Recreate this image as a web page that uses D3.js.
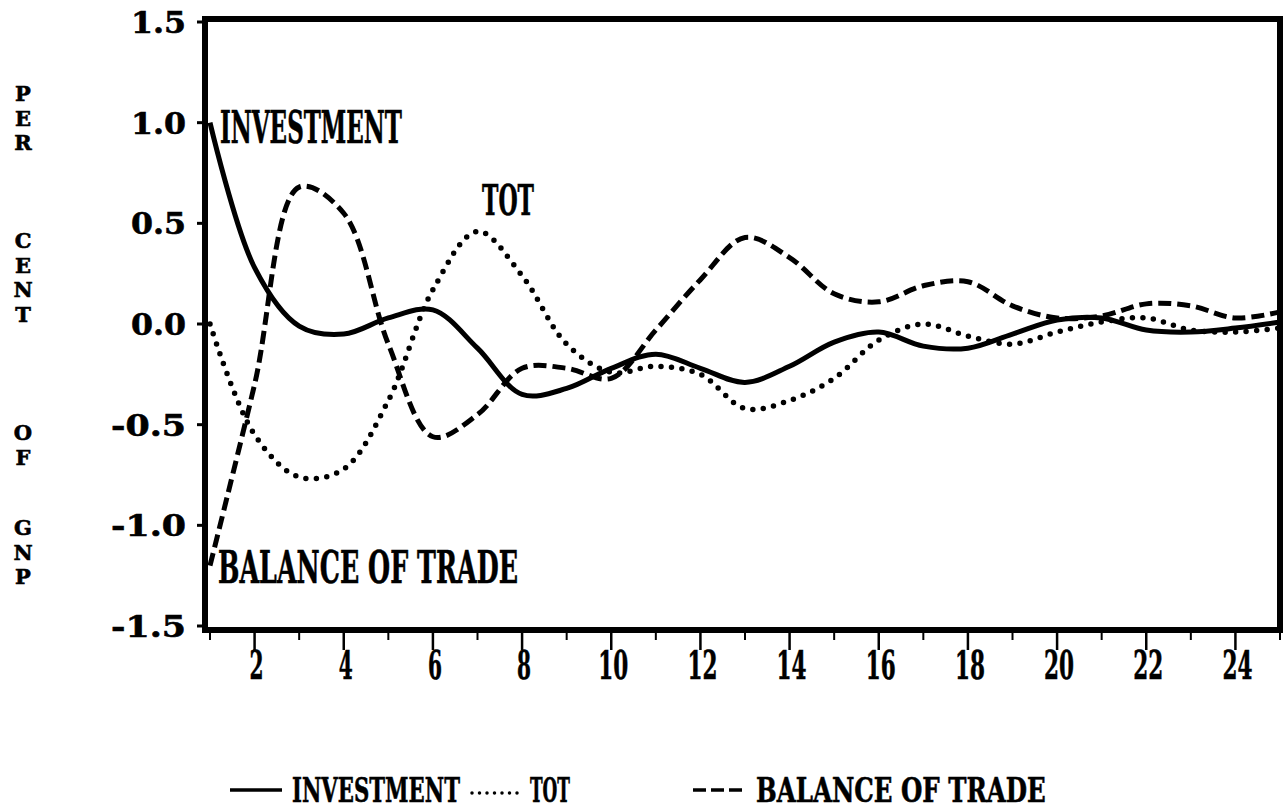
<!DOCTYPE html>
<html>
<head>
<meta charset="utf-8">
<script src="https://cdn.jsdelivr.net/npm/d3@7"></script>
<style>
  html, body { margin: 0; padding: 0; background: #fff; }
  svg { display: block; }
  text { font-family: "DejaVu Serif", "Liberation Serif", serif; font-weight: bold; fill: #000; stroke: #000; stroke-width: 0.6; }
</style>
</head>
<body>
<svg id="chart" width="1286" height="812"></svg>
<script>
// ---- data ----
const periods = [1,2,3,4,5,6,7,8,9,10,11,12,13,14,15,16,17,18,19,20,21,22,23,24,25];
const investment = [1.0, 0.28, -0.01, -0.05, 0.03, 0.07, -0.12, -0.35, -0.32, -0.22, -0.15, -0.22, -0.29, -0.21, -0.09, -0.04, -0.11, -0.12, -0.05, 0.02, 0.03, -0.03, -0.04, -0.02, 0.01];
const tot = [0.0, -0.55, -0.76, -0.72, -0.38, 0.17, 0.46, 0.24, -0.10, -0.24, -0.21, -0.25, -0.42, -0.38, -0.27, -0.08, 0.0, -0.06, -0.10, -0.04, 0.01, 0.03, -0.03, -0.04, -0.02];
const balanceOfTrade = [-1.2, -0.30, 0.68, 0.55, -0.10, -0.56, -0.45, -0.22, -0.22, -0.27, -0.03, 0.22, 0.43, 0.33, 0.15, 0.11, 0.19, 0.21, 0.09, 0.03, 0.04, 0.10, 0.09, 0.03, 0.06];
const yTicks = [1.5, 1.0, 0.5, 0.0, -0.5, -1.0, -1.5];
const yTickLabels = ["1.5", "1.0", "0.5", "0.0", "-0.5", "-1.0", "-1.5"];
const xMajorTicks = [2,4,6,8,10,12,14,16,18,20,22,24];
const xMinorTicks = [1,3,5,7,9,11,13,15,17,19,21,23,25];
const yTitleWords = ["PER", "CENT", "OF", "GNP"];
const seriesNames = ["INVESTMENT", "TOT", "BALANCE OF TRADE"];

// ---- layout ----
const svg = d3.select("#chart");
const x = d3.scaleLinear().domain([1, 25]).range([210, 1280]);
const y = d3.scaleLinear().domain([-1.5, 1.5]).range([626, 22]);

// condensed text: natural glyphs squeezed horizontally to a target width
function txt(g, px, py, s, size, len, anchor) {
  const t = g.append("text")
    .attr("x", 0).attr("y", 0)
    .attr("font-size", size)
    .attr("text-anchor", anchor || "start")
    .text(s);
  const w = t.node().getComputedTextLength();
  const sx = len && w ? len / w : 1;
  t.attr("transform", `translate(${px},${py}) scale(${sx},1)`);
  return t;
}

// frame
svg.append("rect")
  .attr("x", 205).attr("y", 19)
  .attr("width", 1075).attr("height", 611)
  .attr("fill", "none").attr("stroke", "#000").attr("stroke-width", 6);

// y ticks + labels
const gy = svg.append("g");
yTicks.forEach((v, i) => {
  gy.append("line").attr("x1", 197).attr("x2", 206)
    .attr("y1", y(v)).attr("y2", y(v))
    .attr("stroke", "#000").attr("stroke-width", 3);
  const s = yTickLabels[i];
  txt(gy, 186, y(v) + 11, s, 30, s.length === 3 ? 55 : 75, "end");
});

// x ticks + labels
const gx = svg.append("g");
xMajorTicks.forEach(v => {
  gx.append("line").attr("x1", x(v)).attr("x2", x(v))
    .attr("y1", 630).attr("y2", 650)
    .attr("stroke", "#000").attr("stroke-width", 2.5);
  const s = String(v);
  txt(gx, x(v) + 2, 679, s, 40, s.length === 1 ? 14 : 30, "middle");
});
xMinorTicks.forEach(v => {
  gx.append("line").attr("x1", x(v)).attr("x2", x(v))
    .attr("y1", 630).attr("y2", 640)
    .attr("stroke", "#000").attr("stroke-width", 2);
});

// y title, stacked letters (one text element per word)
const gt = svg.append("g");
const wordStarts = [93, 240, 432, 527];
yTitleWords.forEach((w, wi) => {
  const t = gt.append("text")
    .attr("font-size", 21)
    .attr("text-anchor", "middle")
    .attr("transform", `translate(23,${wordStarts[wi] + 8})`);
  w.split("").forEach((ch, ci) => {
    t.append("tspan").attr("x", 0).attr("y", ci * 24.5).text(ch);
  });
});

// lines
const line = d3.line()
  .x((d, i) => x(periods[i]))
  .y(d => y(d))
  .curve(d3.curveCatmullRom.alpha(0.5));

const gl = svg.append("g");
gl.append("path").datum(investment).attr("d", line)
  .attr("fill", "none").attr("stroke", "#000").attr("stroke-width", 5)
  .attr("stroke-linejoin", "round");
gl.append("path").datum(tot).attr("d", line)
  .attr("fill", "none").attr("stroke", "#000").attr("stroke-width", 5.5)
  .attr("stroke-linecap", "round").attr("stroke-dasharray", "0 10.5");
gl.append("path").datum(balanceOfTrade).attr("d", line)
  .attr("fill", "none").attr("stroke", "#000").attr("stroke-width", 5)
  .attr("stroke-dasharray", "13 6");

// in-plot labels
const gi = svg.append("g");
txt(gi, 220, 143, seriesNames[0], 44, 182);
txt(gi, 482, 215, seriesNames[1], 42, 52);
txt(gi, 218, 583, seriesNames[2], 44, 300);

// legend
const lg = svg.append("g");
const ly = 790;
lg.append("line").attr("x1", 230).attr("x2", 282).attr("y1", ly).attr("y2", ly)
  .attr("stroke", "#000").attr("stroke-width", 3.5);
txt(lg, 292, ly + 12, seriesNames[0], 33, 168);
lg.append("line").attr("x1", 472).attr("x2", 518).attr("y1", ly + 3).attr("y2", ly + 3)
  .attr("stroke", "#000").attr("stroke-width", 3.5)
  .attr("stroke-linecap", "round").attr("stroke-dasharray", "0 7.5");
txt(lg, 530, ly + 12, seriesNames[1], 33, 40);
lg.append("line").attr("x1", 693).attr("x2", 745).attr("y1", ly).attr("y2", ly)
  .attr("stroke", "#000").attr("stroke-width", 3.5)
  .attr("stroke-dasharray", "13 5");
txt(lg, 756, ly + 12, seriesNames[2], 33, 290);
</script>
</body>
</html>
